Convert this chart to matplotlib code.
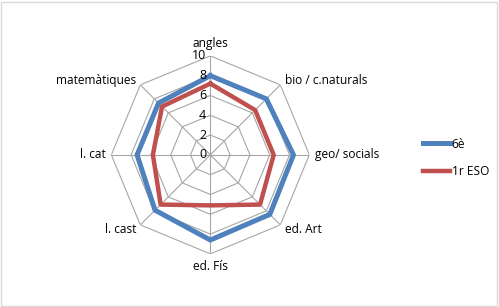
import numpy as np
import matplotlib.pyplot as plt
from matplotlib.patches import Rectangle

categories = ['angles', 'bio / c.naturals', 'geo/ socials', 'ed. Art',
              'ed. Fís', 'l. cast', 'l. cat', 'matemàtiques']
sixth = [8.0, 8.0, 8.4, 8.5, 8.6, 7.9, 7.4, 7.4]
first_eso = [7.2, 6.4, 6.4, 7.1, 5.1, 7.1, 5.8, 6.9]
series_names = ['6è', '1r ESO']
rticks = [0, 2, 4, 6, 8, 10]

plt.rcParams['font.family'] = ['Open Sans', 'DejaVu Sans']

fig = plt.figure(figsize=(4.99, 3.07), dpi=100)
fig.patches.append(Rectangle((0.002, 0.004), 0.994, 0.99, transform=fig.transFigure,
                             fill=False, edgecolor='#d9d9d9', linewidth=1))

ax = fig.add_axes([0.223, 0.173, 0.397, 0.645], projection='polar')
ax.set_theta_zero_location('N')
ax.set_theta_direction(-1)
ax.set_ylim(0, 10)
ax.grid(False)
ax.spines['polar'].set_visible(False)
ax.set_xticks([])
ax.set_yticks([])

n = len(categories)
theta = np.arange(n) * 2 * np.pi / n
closed = np.append(theta, theta[0])

# polygon grid
for r in rticks[1:]:
    ax.plot(closed, [r] * (n + 1), color='#a6a6a6', linewidth=0.8, zorder=1)
for t in theta:
    ax.plot([t, t], [0, 10], color='#a6a6a6', linewidth=0.8, zorder=1)

ax.plot(closed, sixth + [sixth[0]], color='#4f81bd', linewidth=3.6, label=series_names[0], zorder=3)
ax.plot(closed, first_eso + [first_eso[0]], color='#c0504d', linewidth=3.2, label=series_names[1], zorder=3)

# radial tick labels just left of the top spoke
for r in rticks:
    x, y = ax.transData.transform((0, r))
    fig.text((x - 4) / fig.bbox.width, y / fig.bbox.height, str(r),
             ha='right', va='center', fontsize=9)

for t, lab in zip(theta, categories):
    ang = np.degrees(t)
    if ang == 0:
        ha, va = 'center', 'bottom'
    elif ang == 180:
        ha, va = 'center', 'top'
    elif ang < 180:
        ha, va = 'left', 'center'
    else:
        ha, va = 'right', 'center'
    ax.text(t, 10.6, lab, ha=ha, va=va, fontsize=8.6)

fig.legend(loc='center left', bbox_to_anchor=(0.826, 0.486), frameon=False,
           handlelength=2.3, labelspacing=1.2, handletextpad=0.1, fontsize=8.6)

fig.savefig('out.png', dpi=100)
